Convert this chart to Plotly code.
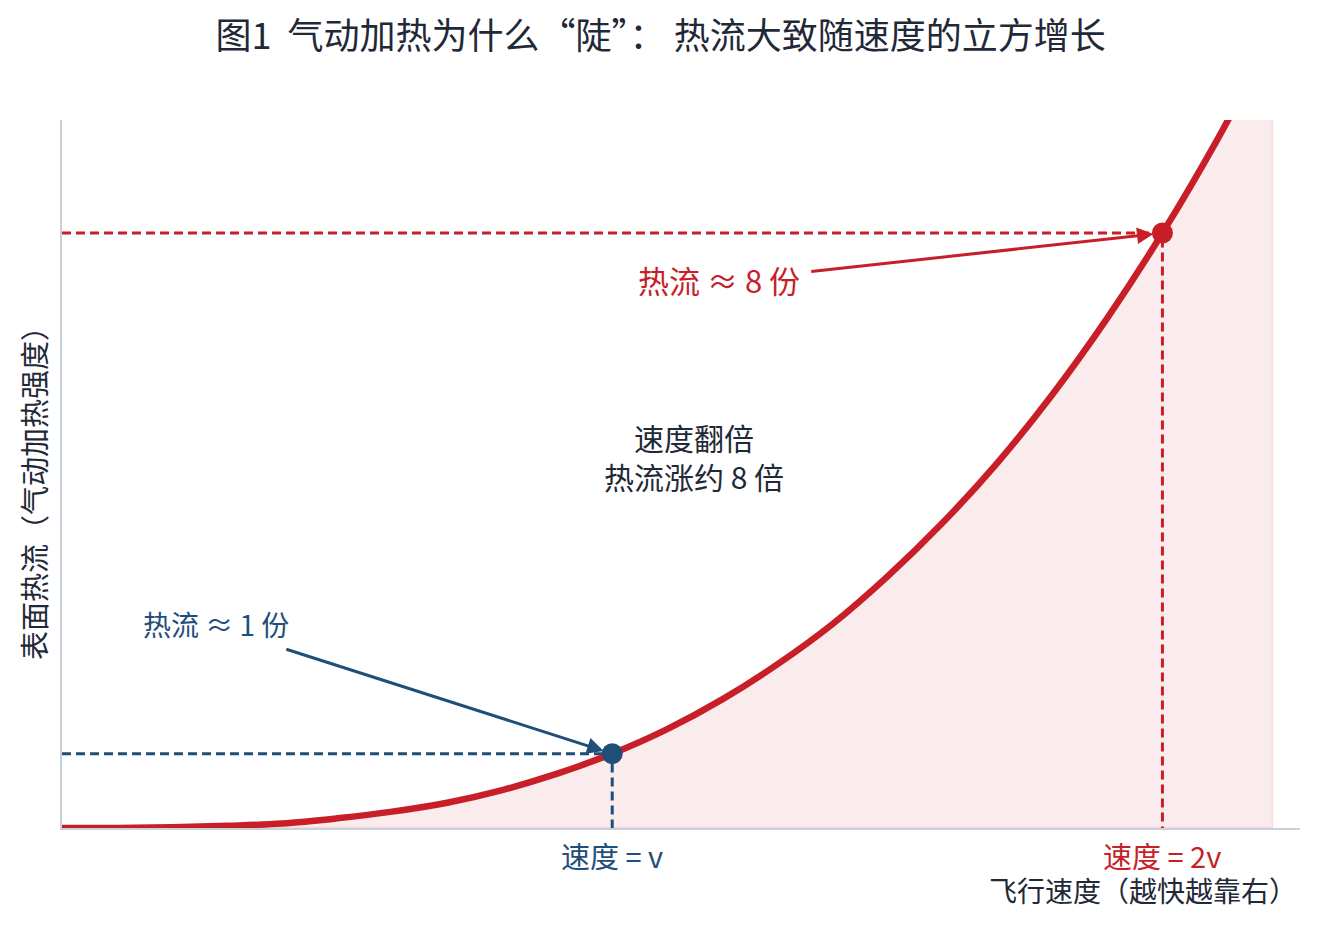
import plotly.graph_objects as go

# 速度（以 v 为单位）与热流（以速度 v 时为 1 份）
speed = [0.0, 0.1, 0.2, 0.3, 0.4, 0.5, 0.6, 0.7, 0.8, 0.9, 1.0, 1.1,
         1.2, 1.3, 1.4, 1.5, 1.6, 1.7, 1.8, 1.9, 2.0, 2.1, 2.2]
heat = [0.0, 0.0, 0.01, 0.03, 0.06, 0.13, 0.22, 0.34, 0.51, 0.73, 1.0, 1.33,
        1.73, 2.2, 2.74, 3.38, 4.1, 4.91, 5.83, 6.86, 8.0, 9.26, 10.65]

# 两个标注点
pt_speed = [1.0, 2.0]
pt_heat = [1.0, 8.0]
pt_labels = ["速度 = v", "速度 = 2v"]
pt_notes = ["热流 ≈ 1 份", "热流 ≈ 8 份"]

RED = "#c81e28"
BLUE = "#1f4e79"
DARK = "#1f2937"
AXIS = "#c8d1dc"
FONT = "Noto Sans CJK SC"

fig = go.Figure()

# 阴影区域
fig.add_trace(go.Scatter(
    x=speed + [speed[-1], speed[0]], y=heat + [0, 0],
    fill="toself", fillcolor="rgba(200,30,40,0.09)",
    line=dict(color="rgba(200,30,40,0.12)", width=1.5),
    mode="lines", hoverinfo="skip", showlegend=False,
))

# 参考虚线
for xs, ys, c in [(pt_speed[0], pt_heat[0], BLUE), (pt_speed[1], pt_heat[1], RED)]:
    fig.add_trace(go.Scatter(x=[0, xs, xs], y=[ys, ys, 0], mode="lines",
                             line=dict(color=c, width=3, dash="9px,5px"),
                             showlegend=False, hoverinfo="skip"))

# 主曲线
fig.add_trace(go.Scatter(x=speed, y=heat, mode="lines", line_shape="spline",
                         line=dict(color=RED, width=6.5), showlegend=False))

fig.add_trace(go.Scatter(x=pt_speed, y=pt_heat, mode="markers",
                         marker=dict(color=[BLUE, RED], size=21),
                         cliponaxis=False, showlegend=False))

# 箭头
fig.add_annotation(x=pt_speed[0], y=pt_heat[0], ax=0.405, ay=2.41,
                   axref="x", ayref="y", text="", showarrow=True,
                   arrowhead=2, arrowsize=1.1, arrowwidth=3, arrowcolor=BLUE,
                   standoff=9)
fig.add_annotation(x=pt_speed[1], y=pt_heat[1], ax=1.359, ay=7.48,
                   axref="x", ayref="y", text="", showarrow=True,
                   arrowhead=2, arrowsize=1.1, arrowwidth=3, arrowcolor=RED,
                   standoff=9)

fig.add_annotation(x=0.28, y=2.74, text=pt_notes[0], showarrow=False,
                   font=dict(size=28, color=BLUE, family=FONT))
fig.add_annotation(x=1.194, y=7.37, text=pt_notes[1], showarrow=False,
                   font=dict(size=31, color=RED, family=FONT))
fig.add_annotation(x=1.148, y=5.0, text="速度翻倍<br>热流涨约 8 倍", showarrow=False,
                   borderpad=0, font=dict(size=30, color=DARK, family=FONT))

# 横轴下方标签
fig.add_annotation(x=pt_speed[0], y=-0.038, yref="paper", yanchor="middle",
                   text=pt_labels[0], showarrow=False, borderpad=0,
                   font=dict(size=29, color=BLUE, family=FONT))
fig.add_annotation(x=pt_speed[1], y=-0.038, yref="paper", yanchor="middle",
                   text=pt_labels[1], showarrow=False, borderpad=0,
                   font=dict(size=29, color=RED, family=FONT))
fig.add_annotation(x=1.0, xref="paper", xanchor="right", xshift=-2,
                   y=-0.087, yref="paper", yanchor="middle", borderpad=0,
                   text="飞行速度（越快越靠右）", showarrow=False,
                   font=dict(size=28, color=DARK, family=FONT))
fig.add_annotation(x=-0.0234, xref="paper", xanchor="center", y=0.483, yref="paper",
                   yanchor="middle", text="表面热流（气动加热强度）", textangle=-90,
                   showarrow=False, font=dict(size=29, color=DARK, family=FONT))

fig.update_layout(
    width=1321, height=927,
    margin=dict(l=54, r=29, t=112, b=107),
    paper_bgcolor="white", plot_bgcolor="white",
    font=dict(family=FONT, color=DARK),
    title=dict(text="图1  气动加热为什么“陡”： 热流大致随速度的立方增长",
               x=0.494, xanchor="center", y=0.969, yanchor="middle",
               font=dict(size=36, color=DARK, family=FONT)),
)
fig.update_xaxes(range=[0, 2.25], showgrid=False, zeroline=False, showticklabels=False,
                 ticks="", showline=True, linecolor=AXIS, linewidth=2)
fig.update_yaxes(range=[0, 9.52], showgrid=False, zeroline=False, showticklabels=False,
                 ticks="", showline=True, linecolor=AXIS, linewidth=2)

fig.write_html("out.html")
